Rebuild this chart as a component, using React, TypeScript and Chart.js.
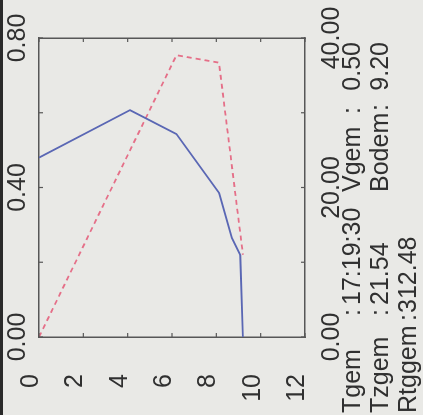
import React, { useEffect, useRef } from "react";
import { Chart, registerables } from "chart.js";

Chart.register(...registerables);

// ---- data ----
const velocityDepths = [0, 4.1, 6.2, 8.13, 8.7, 9.08, 9.2];
const velocityValues = [0.48, 0.607, 0.543, 0.385, 0.265, 0.219, 0];
const secondDepths = [0, 6.2, 8.12, 9.2];
const secondValues = [0, 37.7, 36.7, 11.0];
const infoLeftLabels = ["Tgem", "Tzgem", "Rtggem"];
const infoLeftValues = ["17:19:30", "21.54", "312.48"];
const infoRightLabels = ["Vgem", "Bodem"];
const infoRightValues = ["0.50", "9.20"];

const W = 415;
const H = 423;
const FONT_FAMILY = "'Liberation Sans', Arial, Helvetica, sans-serif";
const AXIS = "#575757";
const TEXT = "#303030";
const BG = "#e9e9e6";

const isMultiple = (v: number, step: number) =>
  Math.abs(v / step - Math.round(v / step)) < 1e-6;

const noPad = (s: any) => {
  s.paddingTop = 0;
  s.paddingBottom = 0;
  s.paddingLeft = 0;
  s.paddingRight = 0;
};

const bgPlugin = {
  id: "paperBg",
  beforeDraw(chart: any) {
    const { ctx } = chart;
    ctx.save();
    ctx.fillStyle = BG;
    ctx.fillRect(0, 0, chart.width, chart.height);
    ctx.fillStyle = "#2a2a2a";
    ctx.fillRect(0, 0, chart.width, 3);
    ctx.restore();
  },
};

const innerTicksPlugin = {
  id: "innerTicks",
  afterDraw(chart: any) {
    const { ctx, chartArea: a } = chart;
    const len = 4;
    ctx.save();
    ctx.strokeStyle = AXIS;
    ctx.lineWidth = 1.2;
    ["x", "x2", "y", "y2"].forEach((id) => {
      const s = chart.scales[id];
      s.ticks.forEach((_t: any, i: number) => {
        const p = s.getPixelForTick(i);
        ctx.beginPath();
        if (id === "x") {
          ctx.moveTo(p, a.top);
          ctx.lineTo(p, a.top + len);
        } else if (id === "x2") {
          ctx.moveTo(p, a.bottom);
          ctx.lineTo(p, a.bottom - len);
        } else if (id === "y") {
          ctx.moveTo(a.left, p);
          ctx.lineTo(a.left + len, p);
        } else {
          ctx.moveTo(a.right, p);
          ctx.lineTo(a.right - len, p);
        }
        ctx.stroke();
      });
    });
    ctx.restore();
  },
};

const infoTextPlugin = {
  id: "infoText",
  afterDraw(chart: any) {
    const { ctx } = chart;
    const base = [360, 388, 416];
    const colonL = [99, 99, 94];
    const valueL = [110, 110, 102];
    const colonR = [301, 304];
    ctx.save();
    ctx.font = `25px ${FONT_FAMILY}`;
    ctx.fillStyle = TEXT;
    ctx.textBaseline = "alphabetic";
    infoLeftLabels.forEach((lab, i) => {
      ctx.textAlign = "left";
      ctx.fillText(lab, 2, base[i]);
      ctx.fillText(":", colonL[i], base[i]);
      ctx.fillText(infoLeftValues[i], valueL[i], base[i]);
    });
    infoRightLabels.forEach((lab, i) => {
      ctx.textAlign = "left";
      ctx.fillText(lab, 223, base[i]);
      ctx.fillText(":", colonR[i], base[i]);
      ctx.textAlign = "right";
      ctx.fillText(infoRightValues[i], 373, base[i]);
    });
    ctx.restore();
  },
};

export default function App() {
  const ref = useRef<HTMLCanvasElement>(null);

  useEffect(() => {
    const font = { family: FONT_FAMILY, size: 25 };
    const chart = new Chart(ref.current as HTMLCanvasElement, {
      type: "line",
      data: {
        datasets: [
          {
            label: "V",
            data: velocityDepths.map((d, i) => ({ x: velocityValues[i], y: d })),
            xAxisID: "x",
            yAxisID: "y",
            borderColor: "#5a67b4",
            borderWidth: 1.8,
            pointRadius: 0,
            fill: false,
            tension: 0,
          },
          {
            label: "T",
            data: secondDepths.map((d, i) => ({ x: secondValues[i], y: d })),
            xAxisID: "x2",
            yAxisID: "y",
            borderColor: "#e56f88",
            borderWidth: 1.8,
            borderDash: [5, 4],
            pointRadius: 0,
            fill: false,
            tension: 0,
          },
        ],
      },
      options: {
        responsive: false,
        animation: false,
        devicePixelRatio: 1,
        indexAxis: "y",
        layout: { padding: 0 },
        plugins: { legend: { display: false }, tooltip: { enabled: false } },
        scales: {
          x: {
            type: "linear",
            position: "top",
            min: 0,
            max: 0.8,
            grid: { display: false, drawTicks: false },
            border: { display: true, color: AXIS, width: 1.5 },
            ticks: {
              stepSize: 0.2,
              autoSkip: false,
              maxRotation: 0,
              padding: 6,
              color: TEXT,
              font,
              callback: (v: any) => (isMultiple(Number(v), 0.4) ? Number(v).toFixed(2) : ""),
            },
            afterFit: (s: any) => {
              s.height = 39;
              noPad(s);
            },
          },
          x2: {
            type: "linear",
            position: "bottom",
            min: 0,
            max: 40,
            grid: { display: false, drawTicks: false },
            border: { display: true, color: AXIS, width: 1.5 },
            ticks: {
              stepSize: 10,
              autoSkip: false,
              maxRotation: 0,
              padding: 12,
              color: TEXT,
              font,
              callback: (v: any) => (isMultiple(Number(v), 20) ? Number(v).toFixed(2) : ""),
            },
            afterFit: (s: any) => {
              s.height = H - 305;
              noPad(s);
            },
          },
          y: {
            type: "linear",
            position: "left",
            reverse: true,
            min: 0,
            max: 12,
            grid: { display: false, drawTicks: false },
            border: { display: true, color: AXIS, width: 1.5 },
            ticks: {
              stepSize: 2,
              autoSkip: false,
              padding: 37,
              labelOffset: -8,
              color: TEXT,
              font,
              callback: (v: any) => String(v),
            },
            afterFit: (s: any) => {
              s.width = 78;
              noPad(s);
            },
          },
          y2: {
            type: "linear",
            position: "right",
            reverse: true,
            min: 0,
            max: 12,
            grid: { display: false, drawTicks: false },
            border: { display: true, color: AXIS, width: 1.5 },
            ticks: { stepSize: 2, display: false },
            afterFit: (s: any) => {
              s.width = W - 377;
              noPad(s);
            },
          },
        },
      } as any,
      plugins: [bgPlugin, innerTicksPlugin, infoTextPlugin],
    });
    return () => chart.destroy();
  }, []);

  return (
    <div
      style={{
        position: "fixed",
        left: 0,
        top: 0,
        width: W,
        height: H,
        transformOrigin: "0 0",
        transform: `translateY(${W}px) rotate(-90deg)`,
        background: BG,
      }}
    >
      <canvas ref={ref} width={W} height={H} style={{ display: "block", width: W, height: H }} />
    </div>
  );
}
